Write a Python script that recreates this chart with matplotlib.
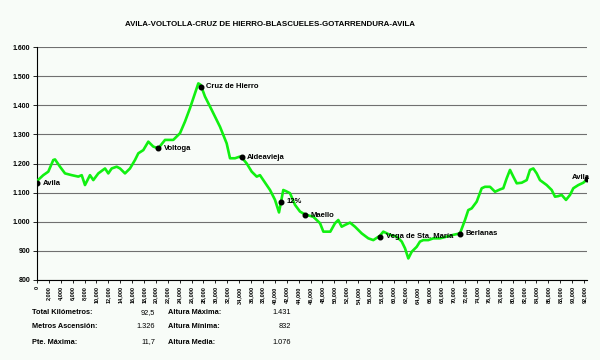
import matplotlib.pyplot as plt
from matplotlib.ticker import FuncFormatter, MultipleLocator

# Perfil: distancia (km) y altura (m)
km = [0.0, 1.06, 1.90, 2.74, 3.03, 3.87, 4.71, 5.84, 6.95, 7.52, 8.07, 8.91, 9.47,
      10.31, 11.44, 11.99, 12.56, 13.40, 13.96, 14.80, 15.64, 16.48, 17.04, 17.88,
      18.72, 19.56, 20.40, 21.53, 22.08, 22.92, 24.05, 24.89, 25.73, 26.57, 27.13,
      27.53, 28.25, 29.38, 30.78, 31.90, 32.46, 33.30, 34.14, 34.43, 35.27, 36.11,
      36.95, 37.50, 38.06, 39.19, 40.03, 40.70, 41.42, 41.88, 42.55, 43.39, 44.23,
      45.07, 46.47, 47.60, 48.16, 49.33, 50.12, 50.67, 51.24, 51.80, 52.64, 53.48,
      54.61, 55.72, 56.56, 57.69, 58.24, 59.37, 60.49, 61.34, 61.89, 62.45, 63.02,
      63.86, 64.41, 64.97, 65.81, 66.65, 67.78, 68.90, 70.01, 71.14, 71.98, 72.53,
      73.11, 73.95, 74.79, 75.34, 76.19, 77.03, 77.87, 78.42, 78.99, 79.55, 80.10,
      80.68, 81.52, 82.36, 82.91, 83.47, 84.04, 84.59, 85.72, 86.56, 87.12, 87.67,
      88.24, 88.97, 89.64, 90.20, 91.04, 91.88, 92.50]
altura = [1140, 1160, 1172, 1212, 1214, 1189, 1166, 1160, 1155, 1160, 1126, 1160, 1143,
          1166, 1183, 1166, 1183, 1189, 1183, 1166, 1183, 1212, 1235, 1246,
          1275, 1258, 1252, 1281, 1281, 1281, 1304, 1344, 1390, 1441, 1475,
          1470, 1430, 1384, 1326, 1269, 1218, 1218, 1224, 1221, 1200, 1172,
          1155, 1160, 1143, 1109, 1075, 1032, 1109, 1105, 1098, 1058, 1035,
          1025, 1017, 995, 966, 966, 995, 1006, 983, 989, 997, 983,
          960, 943, 937, 952, 966, 955, 949, 932, 909, 874, 897,
          914, 932, 937, 937, 943, 943, 949, 955, 960, 1006, 1040,
          1046, 1069, 1115, 1120, 1120, 1103, 1111, 1115, 1149, 1178, 1155,
          1132, 1134, 1143, 1178, 1183, 1166, 1143, 1126, 1109, 1086, 1088,
          1092, 1075, 1092, 1115, 1126, 1134, 1145]

puntos = ["Avila", "Voltoga", "Cruz de Hierro", "Aldeavieja", "12%", "Maello",
          "Vega de Sta. María", "Berlanas", "Avila"]
puntos_km = [0.0, 20.40, 27.53, 34.43, 41.0, 45.07, 57.69, 71.14, 92.5]
puntos_alt = [1132, 1252, 1464, 1221, 1069, 1023, 949, 958, 1147]

titulo = "AVILA-VOLTOLLA-CRUZ DE HIERRO-BLASCUELES-GOTARRENDURA-AVILA"

resumen_izq = [("Total Kilómetros:", "92,5"), ("Metros Ascensión:", "1.326"),
               ("Pte. Máxima:", "11,7")]
resumen_der = [("Altura Máxima:", "1.431"), ("Altura Mínima:", "832"),
               ("Altura Media:", "1.076")]

plt.rcParams['font.family'] = ['Liberation Sans', 'DejaVu Sans']
bg = '#f8fcf8'

fig = plt.figure(figsize=(6, 3.6), dpi=100, facecolor=bg)
ax = fig.add_axes([37 / 600, 1 - 280 / 360, 550 / 600, 233 / 360])
ax.set_facecolor(bg)

ax.plot(km, altura, color='#11f011', lw=1.9, solid_joinstyle='round', zorder=3)
ax.plot(puntos_km, puntos_alt, 'o', color='black', ms=3.3, zorder=4)

for i, (name, x, y) in enumerate(zip(puntos, puntos_km, puntos_alt)):
    if i == len(puntos) - 1:
        ax.annotate(name, (x, y), xytext=(2, 1), textcoords='offset points',
                    ha='right', va='center', fontsize=5.5, fontweight='bold', zorder=5)
    else:
        ax.annotate(name, (x, y), xytext=(4, 0), textcoords='offset points',
                    ha='left', va='center', fontsize=5.5, fontweight='bold', zorder=5)

ax.set_xlim(0, 92.5)
ax.set_ylim(800, 1600)
ax.yaxis.set_major_locator(MultipleLocator(100))
ax.xaxis.set_major_locator(MultipleLocator(2))
ax.yaxis.set_major_formatter(FuncFormatter(lambda v, p: f"{int(v):,}".replace(",", ".")))
ax.xaxis.set_major_formatter(FuncFormatter(lambda v, p: "0" if v == 0 else f"{int(v)},000"))
ax.grid(axis='y', color='#707070', lw=0.8)
ax.set_axisbelow(True)

for s in ['top', 'right']:
    ax.spines[s].set_visible(False)
ax.spines['left'].set_linewidth(0.8)
ax.spines['bottom'].set_linewidth(0.8)

ax.tick_params(axis='y', labelsize=5, length=3, width=0.6, pad=2)
ax.tick_params(axis='x', labelsize=4, length=2.5, width=0.6, pad=2, labelrotation=90)
for lbl in ax.get_yticklabels() + ax.get_xticklabels():
    lbl.set_fontweight('bold')

fig.text(270 / 600, 1 - 24 / 360, titulo, ha='center', va='center',
         fontsize=5.7, fontweight='bold')

rows_y = [313, 327, 342]
for (lab, val), y in zip(resumen_izq, rows_y):
    fig.text(32 / 600, 1 - y / 360, lab, ha='left', va='center', fontsize=5.3, fontweight='bold')
    fig.text(155 / 600, 1 - y / 360, val, ha='right', va='center', fontsize=5.3)
for (lab, val), y in zip(resumen_der, rows_y):
    fig.text(168 / 600, 1 - y / 360, lab, ha='left', va='center', fontsize=5.3, fontweight='bold')
    fig.text(291 / 600, 1 - y / 360, val, ha='right', va='center', fontsize=5.3)

fig.savefig("out.png", dpi=100, facecolor=bg)
